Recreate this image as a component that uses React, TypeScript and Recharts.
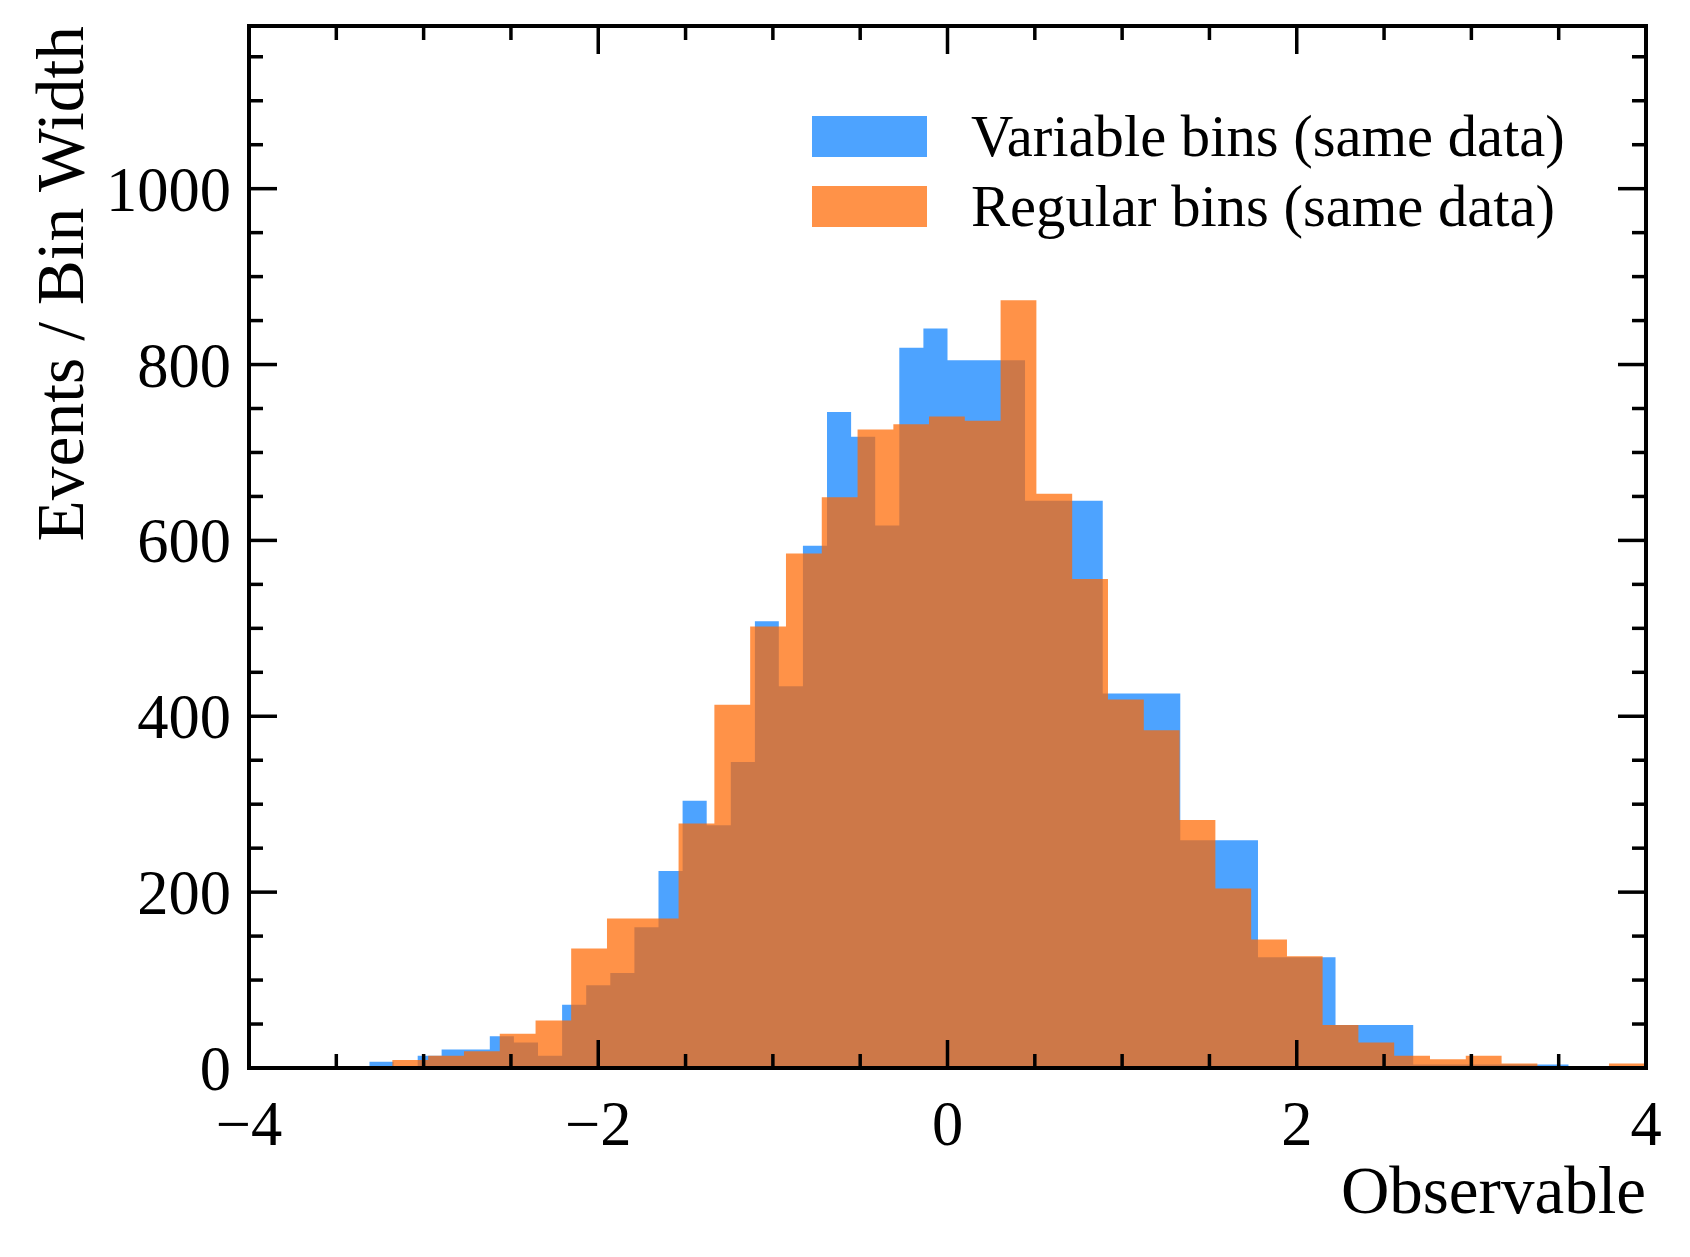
import { ComposedChart, Area, XAxis, YAxis, Legend, Label } from 'recharts';

// variable bins: 29 narrow bins on the left, 9 wide ones on the right
const variableEdges = [
  -4.0, -3.862, -3.724, -3.586, -3.448, -3.31, -3.172, -3.034, -2.897, -2.759,
  -2.621, -2.483, -2.345, -2.207, -2.069, -1.931, -1.793, -1.655, -1.517, -1.379,
  -1.241, -1.103, -0.966, -0.828, -0.69, -0.552, -0.414, -0.276, -0.138, 0.0,
  0.444, 0.889, 1.333, 1.778, 2.222, 2.667, 3.111, 3.556, 4.0,
];
const variableHeights = [
  0, 0, 0, 0, 0, 7, 0, 14, 21, 21,
  36, 29, 14, 72, 94, 108, 160, 224, 304, 276,
  348, 508, 434, 594, 746, 718, 617, 819, 841,
  805, 645, 426, 259, 126, 49, 4, 4, 0,
];

const regularEdges = [
  -3.179, -2.974, -2.769, -2.564, -2.359, -2.155, -1.95, -1.745, -1.54, -1.335,
  -1.13, -0.925, -0.72, -0.515, -0.31, -0.106, 0.099, 0.304, 0.509, 0.714,
  0.919, 1.124, 1.329, 1.534, 1.739, 1.944, 2.148, 2.353, 2.558, 2.763,
  2.968, 3.173, 3.378, 3.583, 3.788, 3.993,
];
const regularHeights = [
  9, 14, 19, 39, 54, 136, 170, 170, 278, 413,
  502, 585, 649, 726, 732, 741, 736, 873, 653, 556,
  419, 384, 282, 204, 146, 127, 49, 29, 14, 10,
  14, 5, 0, 0, 5,
];

const seriesNames = ['Variable bins (same data)', 'Regular bins (same data)'];

const xMajorTicks = [-4, -2, 0, 2, 4];
const xTickLabels = ['\u22124', '\u22122', '0', '2', '4'];
const xMinorTicks = [-3.5, -3, -2.5, -1.5, -1, -0.5, 0.5, 1, 1.5, 2.5, 3, 3.5];
const yMajorTicks = [0, 200, 400, 600, 800, 1000];
const yMinorTicks = [50, 100, 150, 250, 300, 350, 450, 500, 550, 650, 700, 750, 850, 900, 950, 1050, 1100, 1150];

const BLUE = '#4DA3FF';
const ORANGE = '#FF6802';
const ORANGE_ALPHA = 0.72;
const FONT = '"Liberation Serif", "Times New Roman", serif';

// height of the bin that starts at or before x
function binValue(edges: number[], heights: number[], x: number) {
  for (let i = 0; i < heights.length; i++) {
    if (x >= edges[i] && x < edges[i + 1]) return heights[i];
  }
  return 0;
}

const allEdges = Array.from(new Set([...variableEdges, ...regularEdges])).sort((a, b) => a - b);
const table = allEdges.map((x) => ({
  x,
  variable: binValue(variableEdges, variableHeights, x),
  regular: binValue(regularEdges, regularHeights, x),
}));

const xTicks = [...xMajorTicks, ...xMinorTicks].sort((a, b) => a - b);
const yTicks = [...yMajorTicks, ...yMinorTicks].sort((a, b) => a - b);

const MAJOR = 28;
const MINOR = 14;
const TICK_W = 3.5;

function makeTick(side: 'bottom' | 'top' | 'left' | 'right') {
  return (props: any) => {
    const { x, y, payload } = props;
    const v = payload.value;
    const horizontal = side === 'bottom' || side === 'top';
    const majors = horizontal ? xMajorTicks : yMajorTicks;
    const k = majors.indexOf(v);
    const len = k >= 0 ? MAJOR : MINOR;
    let line;
    if (side === 'bottom') line = <line x1={x} y1={y} x2={x} y2={y - len} />;
    else if (side === 'top') line = <line x1={x} y1={y} x2={x} y2={y + len} />;
    else if (side === 'left') line = <line x1={x} y1={y} x2={x + len} y2={y} />;
    else line = <line x1={x} y1={y} x2={x - len} y2={y} />;
    return (
      <g>
        <g stroke="#000" strokeWidth={TICK_W}>{line}</g>
        {k >= 0 && side === 'bottom' && (
          <text x={x} y={y + 77} textAnchor="middle" fontFamily={FONT} fontSize={62.5} fill="#000">
            {xTickLabels[k]}
          </text>
        )}
        {k >= 0 && side === 'left' && (
          <text x={x - 18} y={y + 22} textAnchor="end" fontFamily={FONT} fontSize={62.5} fill="#000">
            {String(v)}
          </text>
        )}
      </g>
    );
  };
}

function LegendBox() {
  const colors = [
    { background: BLUE },
    { background: ORANGE, opacity: ORANGE_ALPHA },
  ];
  return (
    <div style={{ fontFamily: FONT, fontSize: 58.6, color: '#000' }}>
      {seriesNames.map((name, i) => (
        <div key={name} style={{ display: 'flex', alignItems: 'center', height: 41, marginBottom: i === 0 ? 29 : 0 }}>
          <div style={{ width: 115, height: 41, ...colors[i] }} />
          <span style={{ marginLeft: 44, whiteSpace: 'nowrap', lineHeight: '41px' }}>{name}</span>
        </div>
      ))}
    </div>
  );
}

const axisLine = { stroke: '#000', strokeWidth: 4, strokeLinecap: 'square' as const };

export default function App() {
  return (
    <div style={{ position: 'absolute', left: 0, top: 0, background: '#fff' }}>
      <ComposedChart width={1690} height={1257} data={table} margin={{ top: 25, right: 43, bottom: 0, left: 0 }}>
        <Area
          dataKey="variable"
          type="stepAfter"
          fill={BLUE}
          fillOpacity={1}
          stroke="none"
          isAnimationActive={false}
        />
        <Area
          dataKey="regular"
          type="stepAfter"
          fill={ORANGE}
          fillOpacity={ORANGE_ALPHA}
          stroke="none"
          isAnimationActive={false}
        />
        <XAxis
          dataKey="x"
          type="number"
          domain={[-4, 4]}
          allowDataOverflow
          ticks={xTicks}
          interval={0}
          height={189}
          tickSize={0}
          tickMargin={0}
          tickLine={false}
          axisLine={axisLine}
          tick={makeTick('bottom')}
        >
          <Label
            content={(p: any) => (
              <text
                x={p.viewBox.x + p.viewBox.width}
                y={p.viewBox.y + 145}
                textAnchor="end"
                fontFamily={FONT}
                fontSize={67}
                fill="#000"
              >
                Observable
              </text>
            )}
          />
        </XAxis>
        <XAxis
          xAxisId="top"
          orientation="top"
          dataKey="x"
          type="number"
          domain={[-4, 4]}
          allowDataOverflow
          ticks={xTicks}
          interval={0}
          height={1}
          tickSize={0}
          tickMargin={0}
          tickLine={false}
          axisLine={axisLine}
          tick={makeTick('top')}
        />
        <YAxis
          type="number"
          domain={[0, 1185]}
          allowDataOverflow
          ticks={yTicks}
          interval={0}
          width={249}
          tickSize={0}
          tickMargin={0}
          tickLine={false}
          axisLine={axisLine}
          tick={makeTick('left')}
        >
          <Label
            content={(p: any) => (
              <text
                x={83}
                y={p.viewBox.y}
                transform={`rotate(-90, 83, ${p.viewBox.y})`}
                textAnchor="end"
                fontFamily={FONT}
                fontSize={67.5}
                fill="#000"
              >
                Events / Bin Width
              </text>
            )}
          />
        </YAxis>
        <YAxis
          yAxisId="right"
          orientation="right"
          type="number"
          domain={[0, 1185]}
          allowDataOverflow
          ticks={yTicks}
          interval={0}
          width={1}
          tickSize={0}
          tickMargin={0}
          tickLine={false}
          axisLine={axisLine}
          tick={makeTick('right')}
        />
        <Legend
          layout="vertical"
          align="center"
          verticalAlign="middle"
          wrapperStyle={{ left: 812, top: 116, width: 'auto', height: 'auto' }}
          content={() => <LegendBox />}
        />
      </ComposedChart>
    </div>
  );
}
